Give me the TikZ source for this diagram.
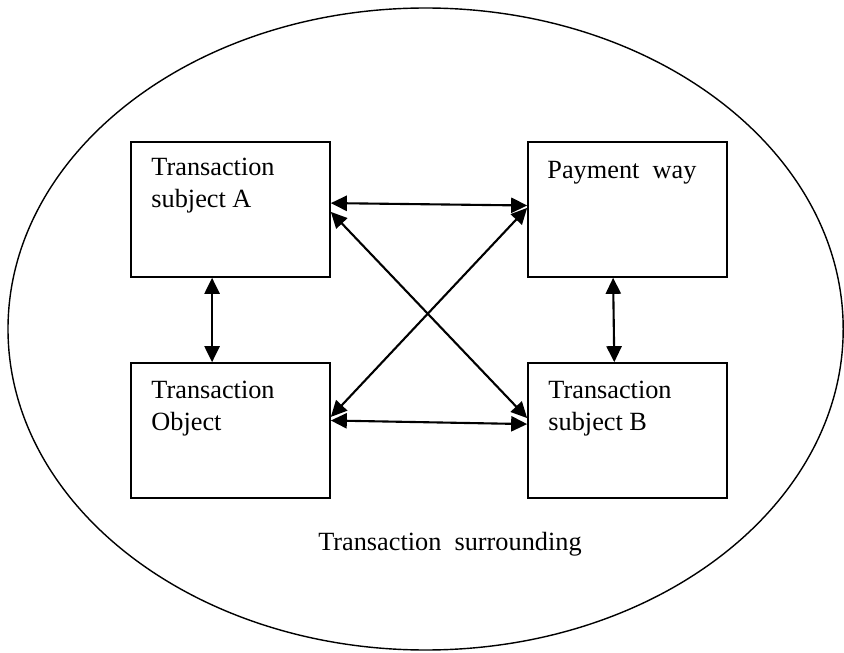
\documentclass[tikz,border=0pt]{standalone}
\usepackage{fontspec}
\setmainfont{Liberation Serif}
\usetikzlibrary{arrows.meta}

\tikzset{
  block/.style={draw, line width=1.2pt, minimum width=4.975cm, minimum height=3.375cm, inner sep=0pt},
  blocktext/.style={anchor=north west, align=left, inner sep=0pt, font=\fontsize{18.7}{22.8}\selectfont},
  link/.style={{Triangle[length=0.4cm,width=0.38cm]}-{Triangle[length=0.4cm,width=0.38cm]}, line width=1.5pt},
}

\begin{document}
\begin{tikzpicture}
\useasboundingbox (0, 0) rectangle (21.1, 16.3);
\draw[line width=1pt] (10.64, 8.075) ellipse (10.44 and 8.025);

\node[block] (subjA) at (5.7625, 11.0625) {};
\node[block] (payway) at (15.6875, 11.0625) {};
\node[block] (object) at (5.7625, 5.5375) {};
\node[block] (subjB) at (15.6875, 5.5375) {};

\node[blocktext] (subjAtext) at ([xshift=0.525cm, yshift=-0.42cm]subjA.north west) {Transaction\\subject A};
\node[blocktext] (paywaytext) at ([xshift=0.5cm, yshift=-0.5cm]payway.north west) {Payment~~way};
\node[blocktext] (objecttext) at ([xshift=0.525cm, yshift=-0.47cm]object.north west) {Transaction\\Object};
\node[blocktext] (subjBtext) at ([xshift=0.525cm, yshift=-0.47cm]subjB.north west) {Transaction\\subject B};

\draw[link] ([yshift=0.16cm]subjA.east) -- ([yshift=0.1cm]payway.west);
\draw[link] ([xshift=-0.46cm]subjA.south) -- ([xshift=-0.46cm]object.north);
\draw[link] ([xshift=-0.36cm]payway.south) -- ([xshift=-0.33cm]subjB.north);
\draw[link] ([yshift=0.25cm]object.east) -- ([yshift=0.16cm]subjB.west);
\draw[link] ([yshift=-0.06cm]subjA.east) -- ([yshift=0.31cm]subjB.west);
\draw[link] ([yshift=0.04cm]payway.west) -- ([yshift=0.34cm]object.east);

\node[blocktext, anchor=base west] (surround) at (7.95, 2.55) {Transaction~~surrounding};
\end{tikzpicture}
\end{document}
